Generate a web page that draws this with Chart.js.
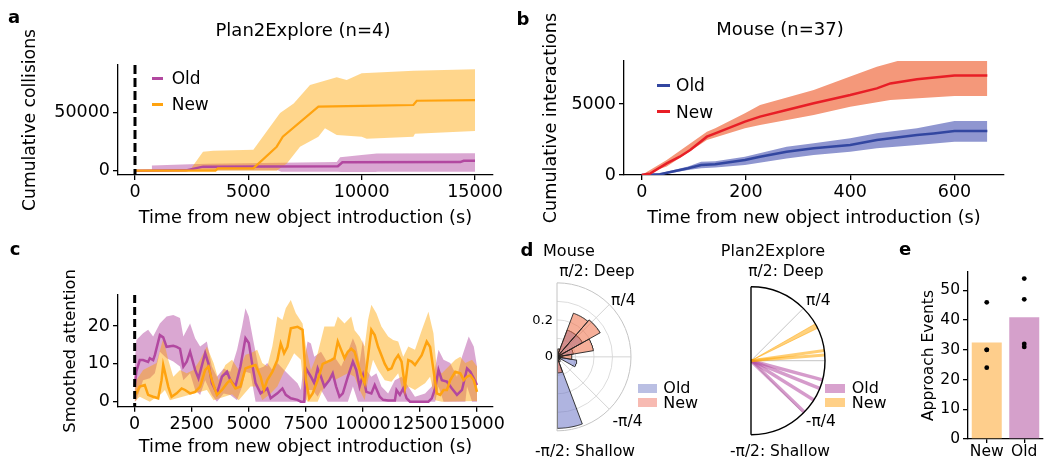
<!DOCTYPE html>
<html>
<head>
<meta charset="utf-8">
<title>Novel object exploration</title>
<script src="https://cdn.jsdelivr.net/npm/chart.js@4.4.1/dist/chart.umd.min.js"></script>
<style>
html,body{margin:0;padding:0;width:1044px;height:458px;overflow:hidden;background:#fff;}
body{position:relative;font-family:"DejaVu Sans",sans-serif;color:#000;}
canvas{position:absolute;}
.tx{position:absolute;white-space:nowrap;line-height:1;transform:translate(-50%,-50%);}
.tl{position:absolute;white-space:nowrap;line-height:1;transform:translate(0,-50%);}
.bd{font-weight:bold;}
.sw{position:absolute;}
</style>
</head>
<body>
<canvas id="ca" width="520" height="230" style="left:0px;top:0px"></canvas>
<canvas id="cb" width="544" height="230" style="left:500px;top:0px"></canvas>
<canvas id="cc" width="520" height="228" style="left:0px;top:230px"></canvas>
<canvas id="cdm" width="180" height="228" style="left:500px;top:230px"></canvas>
<canvas id="cdp" width="160" height="228" style="left:694px;top:230px"></canvas>
<canvas id="ce" width="220" height="240" style="left:840px;top:230px"></canvas>

<div class="tx bd" style="left:14px;top:17px;font-size:18px">a</div>
<div class="tx" style="left:303px;top:30px;font-size:18px">Plan2Explore (n=4)</div>
<div class="tx bd" style="left:523px;top:19px;font-size:18px">b</div>
<div class="tx" style="left:780px;top:29px;font-size:18px">Mouse (n=37)</div>
<div class="tx bd" style="left:15px;top:249px;font-size:18px">c</div>
<div class="tx bd" style="left:527px;top:249.5px;font-size:18px">d</div>
<div class="tx" style="left:569px;top:250.8px;font-size:16px">Mouse</div>
<div class="tx" style="left:773px;top:250.8px;font-size:16px">Plan2Explore</div>
<div class="tx bd" style="left:905px;top:248.8px;font-size:18px">e</div>

<div class="tx" style="left:597px;top:272.3px;font-size:15.5px">π/2: Deep</div>
<div class="tx" style="left:786px;top:272.3px;font-size:15.5px">π/2: Deep</div>
<div class="tx" style="left:623.3px;top:300.5px;font-size:15.5px">π/4</div>
<div class="tx" style="left:818.3px;top:300.5px;font-size:15.5px">π/4</div>
<div class="tx" style="left:627.5px;top:422px;font-size:15.5px">-π/4</div>
<div class="tx" style="left:820.8px;top:422px;font-size:15.5px">-π/4</div>
<div class="tx" style="left:585px;top:452px;font-size:15.5px">-π/2: Shallow</div>
<div class="tx" style="left:780px;top:452px;font-size:15.5px">-π/2: Shallow</div>

<!-- legend a -->
<div class="sw" style="left:151.7px;top:76.5px;width:11.6px;height:3px;background:rgb(178,72,160)"></div>
<div class="tl" style="left:171.7px;top:78.3px;font-size:17px">Old</div>
<div class="sw" style="left:151.7px;top:102.8px;width:11.6px;height:3px;background:rgb(255,163,15)"></div>
<div class="tl" style="left:171.7px;top:103.8px;font-size:17px">New</div>
<!-- legend b -->
<div class="sw" style="left:657px;top:83.5px;width:13px;height:3px;background:rgb(50,70,160)"></div>
<div class="tl" style="left:676px;top:85px;font-size:17px">Old</div>
<div class="sw" style="left:657px;top:110.2px;width:13px;height:3px;background:rgb(232,30,38)"></div>
<div class="tl" style="left:676px;top:111.7px;font-size:17px">New</div>
<!-- legend d mouse -->
<div class="sw" style="left:638.3px;top:384px;width:18.4px;height:8.7px;background:rgb(186,191,227)"></div>
<div class="tl" style="left:663.3px;top:387.5px;font-size:16px">Old</div>
<div class="sw" style="left:638.3px;top:398.3px;width:18.4px;height:8.7px;background:rgb(247,186,178)"></div>
<div class="tl" style="left:663.3px;top:402.5px;font-size:16px">New</div>
<!-- legend d p2e -->
<div class="sw" style="left:825px;top:384px;width:20px;height:9px;background:rgb(216,162,206)"></div>
<div class="tl" style="left:851.7px;top:387.5px;font-size:16px">Old</div>
<div class="sw" style="left:825px;top:398px;width:20px;height:9px;background:rgb(255,208,135)"></div>
<div class="tl" style="left:851.7px;top:402.5px;font-size:16px">New</div>

<script>
// ---------------- DATA ----------------
// Panel a : Plan2Explore cumulative collisions  [time (s), value]
const aTicksX = [0, 5000, 10000, 15000];
const aTicksY = [0, 50000];
const aOldMean = [[0,0],[2250,300],[3000,3500],[8950,3800],[9150,7200],[14350,7400],[14500,8500],[15000,8500]];
const aOldUpper = [[737,4500],[2430,5500],[3180,6000],[8900,7500],[9050,11500],[10000,13500],[10670,14800],[15000,15000]];
const aOldLower = [[737,300],[6300,300],[6450,-800],[8950,-800],[9100,-1200],[10600,-1200],[10700,-900],[15000,-900]];
const aNewMean = [[0,0],[3550,0],[3650,2000],[5220,2000],[6250,20700],[6520,29300],[8090,55200],[10000,55800],[12280,56600],[12430,60300],[15000,60900]];
const aNewUpper = [[0,0],[2400,0],[3000,16400],[3450,17200],[5220,18100],[6400,49700],[7000,58000],[7720,73900],[8900,80500],[9340,78200],[10000,84000],[12280,86200],[15000,87400]];
const aNewLower = [[0,0],[6250,0],[6700,6300],[7280,20700],[8090,29300],[8380,36500],[8900,30800],[10000,29300],[10220,27600],[12280,29300],[12350,31900],[15000,34200]];

// Panel b : Mouse cumulative interactions
const bTicksX = [0, 200, 400, 600];
const bTicksY = [0, 5000];
const bNewMean = [[0,0],[16,100],[48,820],[73,1290],[93,1760],[125,2700],[141,2935],[198,3755],[227,4110],[278,4580],[330,5050],[400,5630],[451,6100],[477,6450],[528,6740],[600,7000],[663,7000]];
const bNewUpper = [[0,0],[48,1050],[125,3050],[141,3290],[198,4340],[227,4930],[330,5990],[400,6930],[451,7630],[493,8050],[663,8050]];
const bNewLower = [[0,0],[48,600],[125,2460],[198,3290],[227,3520],[330,4230],[400,4810],[477,5280],[600,5560],[663,5560]];
const bOldMean = [[0,0],[35,50],[89,470],[114,700],[141,750],[198,1060],[227,1290],[278,1640],[330,1880],[400,2110],[451,2465],[528,2820],[560,2930],[600,3100],[663,3100]];
const bOldUpper = [[0,0],[35,120],[89,600],[114,940],[141,960],[198,1290],[278,1990],[330,2230],[400,2580],[451,2935],[528,3290],[600,3800],[663,3800]];
const bOldLower = [[0,0],[35,0],[89,350],[114,470],[141,520],[198,700],[278,1170],[330,1410],[400,1640],[451,1880],[528,2110],[600,2350],[663,2350]];

// Panel c : smoothed attention
const cTicksX = [0, 2500, 5000, 7500, 10000, 12500, 15000];
const cTicksY = [0, 10, 20];
const cOldMean = [[0,4],[74,8],[221,11],[368,11],[588,10.5],[662,11.5],[809,11],[883,12.3],[1103,17.6],[1250,17],[1397,14.5],[1692,14.8],[1839,14.5],[1986,14],[2133,9.3],[2280,10.6],[2427,13.2],[2648,8.4],[2795,6.2],[3089,12.8],[3236,10],[3383,4.9],[3604,2.2],[3825,6.6],[4045,7.9],[4192,5.7],[4413,4],[4634,9.3],[4854,16.8],[5001,15.5],[5148,10],[5296,4.9],[5516,2.2],[5810,3.5],[5958,0.9],[6252,2.2],[6473,3.5],[6620,1.8],[6840,0.9],[7134,0.5],[7281,0],[7428,0],[7502,8.8],[7722,6.6],[7869,4.9],[8017,8.8],[8164,6.6],[8311,4],[8531,5.7],[8678,7.5],[8826,4],[8973,1.3],[9120,2.2],[9340,6.6],[9561,10.6],[9708,8.4],[9855,4],[10002,7],[10149,2.6],[10370,2.2],[10517,4.4],[10738,1.3],[10885,0.5],[11105,0.3],[11400,0.3],[11473,3.1],[11620,1.8],[11767,3.5],[11915,0.9],[12062,0],[12871,0],[13018,0.9],[13165,3.5],[13312,8.4],[13459,5.7],[13680,5.3],[13900,3.5],[14121,1.8],[14342,3.1],[14562,8.8],[14709,7.9],[14857,6.2],[15000,4.4]];
const cOldUpper = [[0,10],[74,16.3],[368,18.1],[588,19],[809,17.2],[1103,20.7],[1397,22.5],[1692,22.9],[1986,22.1],[2133,17.2],[2427,20.7],[2648,16.8],[2868,14.6],[3162,15.9],[3383,9.3],[3604,6.6],[3898,8.8],[4192,7.9],[4486,13.7],[4707,19.9],[4854,24.7],[5001,22.5],[5222,15.4],[5443,8.8],[5663,9.3],[5810,10.2],[6031,8.4],[6252,10.2],[6546,8.4],[6840,6.6],[7134,4.9],[7281,3.1],[7428,11.1],[7575,15.9],[7722,15.4],[7869,11.9],[8164,13.2],[8458,10.2],[8752,11.9],[9046,9.3],[9340,13.2],[9561,16.8],[9708,14.6],[9855,10.2],[10002,16.3],[10149,8.4],[10370,6.6],[10591,7.5],[10811,4],[11105,2.2],[11400,5.7],[11694,6.6],[11988,4],[12282,1.3],[12724,2.2],[13018,4],[13312,13.7],[13533,11.1],[13827,10.2],[14121,6.6],[14342,11.9],[14636,17.2],[14857,14.6],[15000,9.3]];
const cOldLower = [[0,0],[74,0.4],[368,5.7],[662,6.2],[883,7.5],[1103,13.2],[1397,11.5],[1692,10.6],[1986,9.3],[2133,5.7],[2427,7.5],[2648,3.1],[2868,1.8],[3089,5.7],[3383,1.8],[3604,0],[3898,2.2],[4192,1.8],[4486,0.4],[4707,4],[4854,7.9],[5075,7.5],[5296,0],[7502,0],[7576,3.1],[7797,3.1],[8017,1.3],[8164,3.1],[8458,0],[9340,0],[9561,4],[9782,0],[13165,0],[13312,4],[13533,0],[14489,0],[14562,4],[14783,0],[15000,0]];
const cNewMean = [[0,2],[74,2.2],[221,4],[441,4.4],[588,1.8],[809,1.3],[1030,0.9],[1177,5.7],[1250,9.7],[1471,4],[1618,1.3],[1839,2.2],[2059,3.5],[2206,3.1],[2427,2.2],[2648,2.6],[2868,4],[3089,8.4],[3236,9.3],[3383,5.7],[3604,1.8],[3825,3.1],[4045,4.9],[4192,5.7],[4413,3.5],[4634,4],[4854,8.8],[5075,9.3],[5296,9.7],[5516,6.6],[5663,3.1],[5810,5.7],[6031,7.9],[6252,11],[6399,15.4],[6546,12.8],[6693,14.5],[6840,19.4],[7134,19.8],[7355,19],[7502,5.7],[7649,0.9],[7797,2.2],[8017,5.7],[8238,10],[8458,10.6],[8605,11],[8752,11.5],[8899,15.9],[9046,13.7],[9193,11.5],[9340,13.2],[9488,14],[9635,13.2],[9782,10],[9929,7],[10076,4.9],[10223,11.9],[10370,19],[10517,17.6],[10664,14.5],[10811,12.3],[10958,10],[11105,8.4],[11253,8.8],[11400,11],[11547,12.3],[11694,10.6],[11841,4],[11988,11],[12135,10.6],[12282,9.7],[12430,11],[12577,12.3],[12797,15.9],[12944,14.5],[13091,8.4],[13239,2.2],[13386,1.8],[13533,3.1],[13680,3.1],[13827,5.7],[14047,7.9],[14268,7.5],[14415,5.7],[14562,6.6],[14709,7],[14857,5.7],[15000,2.6]];
const cNewUpper = [[0,3],[74,5.7],[368,8.4],[662,9.3],[956,10.2],[1250,16.8],[1471,11.1],[1692,6.6],[1986,8.4],[2280,7.5],[2574,8.4],[2868,11.1],[3162,14.6],[3457,10.2],[3677,5.7],[3972,9.7],[4266,11.1],[4560,8.4],[4854,12.4],[5075,12.8],[5369,13.7],[5590,10.2],[5810,9.3],[6031,14.6],[6252,22.5],[6473,21.6],[6620,24.7],[6840,26.9],[7061,23.4],[7355,20.7],[7502,14.6],[7723,8.4],[8017,12.8],[8311,19.9],[8605,19.9],[8752,19.9],[8899,22.5],[9193,20.7],[9488,22.5],[9635,18.9],[9855,17.2],[10076,14.6],[10223,21.6],[10370,25.6],[10591,23.4],[10811,19.9],[11105,17.2],[11326,16.3],[11547,15.9],[11767,11.9],[11988,14.6],[12282,13.7],[12577,18.9],[12871,23.8],[13091,18.1],[13239,8.4],[13459,7.5],[13753,9.3],[14047,11.1],[14268,11.9],[14489,10.2],[14783,11.1],[15000,9.3]];
const cNewLower = [[0,0],[221,1.3],[662,0],[1177,2.2],[1324,3.1],[1544,0.4],[3162,3.1],[3457,0.4],[4266,2],[4560,0.4],[5075,4],[5369,4],[5590,0.4],[5958,2.2],[6252,4],[6546,7.9],[6767,10.2],[6987,12.8],[7281,11.1],[7428,1.3],[7576,0],[8017,0],[8238,3.1],[8605,6.6],[8752,5.7],[9046,6.6],[9340,7.5],[9635,6.6],[9855,3.1],[10076,0.4],[10223,5.7],[10444,11.1],[10664,8.4],[10958,5.7],[11253,5.3],[11547,7.5],[11767,2.2],[11988,4],[12282,3.1],[12503,4],[12724,4.9],[12944,6.6],[13165,0.4],[13459,0],[15000,0.2]];

// Panel d : approach angle histograms (degrees)
const dBinEdges = [-90, -70, -50, -30, -10, 10, 30, 50, 70, 90];
const dMouseNew = [0.09, 0.03, 0.02, 0.02, 0.08, 0.20, 0.27, 0.26, 0.045];
const dMouseOld = [0.40, 0.00, 0.02, 0.11, 0.03, 0.09, 0.16, 0.16, 0.02];
const dMouseTicks = [0, 0.2];
const dP2ENewAngles = [4.5, 8];
const dP2ENewWedges = [[26, 30]];
const dP2EOldAngles = [-15, -22, -32, -44];

// Panel e : approach events
const eCategories = ['New', 'Old'];
const eMeans = [32.5, 41];
const eNewPoints = [46, 30, 30, 24];
const eOldPoints = [54, 47, 32, 31];
const eTicksY = [0, 10, 20, 30, 40, 50];

// ---------------- STYLE ----------------
const OLD = 'rgb(178,72,160)', OLD_BAND = 'rgba(178,72,160,0.48)';
const NEW = 'rgb(255,163,15)', NEW_BAND = 'rgba(255,165,0,0.45)';
const RED = 'rgb(232,30,38)', RED_BAND = 'rgb(244,152,122)';
const BLUE = 'rgb(50,70,160)', BLUE_BAND = 'rgb(143,150,208)';
const TICK_FS = 17.5, XT_FS = 17.7;

Chart.defaults.font.family = "'DejaVu Sans', sans-serif";
Chart.defaults.color = '#000';

const xy = arr => arr.map(p => ({x: p[0], y: p[1]}));

function linAxis(o) {
  const ax = {
    type: 'linear', min: o.min, max: o.max, display: o.display !== false,
    afterBuildTicks: s => { s.ticks = o.ticks.map(v => ({value: v})); },
    ticks: {callback: v => String(v), font: {size: o.fs}, padding: o.pad, maxRotation: 0, autoSkip: false, color: '#000'},
    grid: {display: o.grid !== false, drawOnChartArea: false, drawTicks: true, tickLength: o.tl, color: '#000', lineWidth: 1.3},
    border: {display: o.border !== false, color: '#000', width: 1.3},
    title: {display: !!o.title, text: o.title || '', font: {size: o.tfs || o.fs}, color: '#000', padding: o.tpad || 0}
  };
  if (o.w !== undefined) ax.afterFit = s => { s.width = o.w; };
  if (o.h !== undefined) ax.afterFit = s => { s.height = o.h; };
  return ax;
}

function baseOptions(pad, scales, extra) {
  return Object.assign({
    responsive: false, animation: false, devicePixelRatio: 1, events: [],
    layout: {padding: pad},
    elements: {point: {radius: 0, hoverRadius: 0}, line: {tension: 0}},
    plugins: {legend: {display: false}, tooltip: {enabled: false}},
    scales: scales
  }, extra || {});
}

const band = (data, color, target, order) => ({data: xy(data), borderWidth: 0, backgroundColor: color, fill: target, order: order, pointRadius: 0});
const lower = (data, order) => ({data: xy(data), borderWidth: 0, fill: false, order: order, pointRadius: 0});
const line = (data, color, w, order) => ({data: xy(data), borderColor: color, borderWidth: w, fill: false, order: order, pointRadius: 0});

// ---------------- PANEL A ----------------
const aX = {min: -750, max: 15780}, aY = {min: -3700, max: 91100};
new Chart('ca', {
  type: 'line',
  data: {datasets: [
    band(aOldUpper, OLD_BAND, 1, 10), lower(aOldLower, 9),
    band(aNewUpper, NEW_BAND, 3, 8), lower(aNewLower, 7),
    line(aOldMean, OLD, 2.5, 4), line(aNewMean, NEW, 2.2, 3),
    {data: [{x: 0, y: aY.max}, {x: 0, y: aY.min}], borderColor: '#000', borderWidth: 3, borderDash: [9, 4], fill: false, order: 1, pointRadius: 0}
  ]},
  options: baseOptions({left: 0, top: 65, right: 27.3, bottom: 0}, {
    x: linAxis({min: aX.min, max: aX.max, ticks: aTicksX, fs: TICK_FS, tfs: XT_FS, pad: 2, tl: 5, title: 'Time from new object introduction (s)', tpad: {top: 0, bottom: 0.6}, h: 55}),
    y: linAxis({min: aY.min, max: aY.max, ticks: aTicksY, fs: TICK_FS, tfs: 17.2, pad: 3, tl: 5, title: 'Cumulative collisions', tpad: {top: 20.4, bottom: 0}, w: 118})
  })
});

// ---------------- PANEL B ----------------
new Chart('cb', {
  type: 'line',
  data: {datasets: [
    band(bOldUpper, BLUE_BAND, 1, 10), lower(bOldLower, 9),
    band(bNewUpper, RED_BAND, 3, 8), lower(bNewLower, 7),
    line(bOldMean, BLUE, 2.5, 4), line(bNewMean, RED, 2.5, 3)
  ]},
  options: baseOptions({left: 0, top: 61, right: 40, bottom: 0}, {
    x: linAxis({min: -34, max: 695, ticks: bTicksX, fs: TICK_FS, tfs: XT_FS, pad: 2, tl: 5, title: 'Time from new object introduction (s)', tpad: {top: 0, bottom: 0.6}, h: 55}),
    y: linAxis({min: 0, max: 8028, ticks: bTicksY, fs: TICK_FS, tfs: 17.6, pad: 3, tl: 5, title: 'Cumulative interactions', tpad: {top: 41.1, bottom: 0}, w: 124})
  })
});

// ---------------- PANEL C ----------------
const cY = {min: -1.32, max: 28.2};
new Chart('cc', {
  type: 'line',
  data: {datasets: [
    band(cOldUpper, OLD_BAND, 1, 10), lower(cOldLower, 9),
    band(cNewUpper, NEW_BAND, 3, 8), lower(cNewLower, 7),
    line(cOldMean, OLD, 2.5, 4), line(cNewMean, NEW, 2.5, 3),
    {data: [{x: 0, y: cY.max}, {x: 0, y: cY.min}], borderColor: '#000', borderWidth: 3, borderDash: [8, 4], fill: false, order: 1, pointRadius: 0}
  ]},
  options: baseOptions({left: 0, top: 65, right: 27, bottom: 0}, {
    x: linAxis({min: -731, max: 15700, ticks: cTicksX, fs: TICK_FS, tfs: XT_FS, pad: 2, tl: 5, title: 'Time from new object introduction (s)', tpad: {top: 0, bottom: 0.1}, h: 51.3}),
    y: linAxis({min: cY.min, max: cY.max, ticks: cTicksY, fs: TICK_FS, tfs: 16.4, pad: 3, tl: 5, title: 'Smoothed attention', tpad: {top: 60.5, bottom: 0}, w: 118})
  })
});

// ---------------- PANEL D ----------------
const OUTER = 0.4;
function wedges(edges, radii) {
  const pts = [];
  for (let i = 0; i < radii.length; i++) {
    const r = radii[i];
    if (!(r > 0)) continue;
    const a0 = edges[i] * Math.PI / 180, a1 = edges[i + 1] * Math.PI / 180;
    pts.push({x: 0, y: 0});
    for (let k = 0; k <= 24; k++) {
      const a = a0 + (a1 - a0) * k / 24;
      pts.push({x: r * Math.cos(a), y: r * Math.sin(a)});
    }
    pts.push({x: 0, y: 0});
  }
  return pts;
}
function polarGrid(cfg) {
  return {
    id: 'polarGrid',
    beforeDatasetsDraw(chart) {
      const {ctx} = chart, xs = chart.scales.x, ys = chart.scales.y;
      const cx = xs.getPixelForValue(0), cy = ys.getPixelForValue(0);
      const R = v => xs.getPixelForValue(v) - cx;
      ctx.save();
      ctx.lineWidth = 1;
      ctx.strokeStyle = cfg.grid;
      cfg.rings.forEach(r => { ctx.beginPath(); ctx.arc(cx, cy, R(r), -Math.PI / 2, Math.PI / 2); ctx.stroke(); });
      ctx.strokeStyle = cfg.spoke;
      cfg.spokes.forEach(d => {
        const a = d * Math.PI / 180;
        ctx.beginPath(); ctx.moveTo(cx, cy);
        ctx.lineTo(cx + R(OUTER) * Math.cos(a), cy - R(OUTER) * Math.sin(a)); ctx.stroke();
      });
      ctx.restore();
    },
    afterDatasetsDraw(chart) {
      const {ctx} = chart, xs = chart.scales.x, ys = chart.scales.y;
      const cx = xs.getPixelForValue(0), cy = ys.getPixelForValue(0);
      const r = xs.getPixelForValue(OUTER) - cx;
      ctx.save();
      ctx.strokeStyle = cfg.frame; ctx.lineWidth = cfg.frameW;
      ctx.beginPath(); ctx.arc(cx, cy, r, -Math.PI / 2, Math.PI / 2); ctx.stroke();
      ctx.beginPath(); ctx.moveTo(cx, cy - r); ctx.lineTo(cx, cy + r); ctx.stroke();
      ctx.restore();
    }
  };
}

new Chart('cdm', {
  type: 'line',
  data: {datasets: [
    {data: wedges(dBinEdges, dMouseNew), fill: 'shape', backgroundColor: 'rgba(238,110,70,0.55)', borderColor: '#222', borderWidth: 0.9, order: 2, pointRadius: 0},
    {data: wedges(dBinEdges, dMouseOld), fill: 'shape', backgroundColor: 'rgba(110,118,198,0.55)', borderColor: '#222', borderWidth: 0.9, order: 3, pointRadius: 0}
  ]},
  options: baseOptions({left: 0, top: 37.5, right: 30.5, bottom: 5.5}, {
    x: {type: 'linear', min: 0, max: 0.5, display: false},
    y: linAxis({min: -0.5, max: 0.5, ticks: dMouseTicks, fs: 13, pad: 4, tl: 0, grid: false, border: false, w: 57})
  }),
  plugins: [polarGrid({rings: [0.1, 0.2, 0.3], spokes: [45, 0, -45], grid: '#dcdcdc', spoke: '#d4d4d4', frame: '#c4c4c4', frameW: 1})]
});

const p2eDatasets = [];
dP2ENewWedges.forEach(w => p2eDatasets.push({data: wedges([w[0], w[1]], [OUTER]), fill: 'shape', backgroundColor: 'rgba(255,165,0,0.5)', borderColor: 'rgba(255,165,0,0.5)', borderWidth: 1, order: 3, pointRadius: 0}));
dP2ENewAngles.forEach(d => p2eDatasets.push({data: [{x: 0, y: 0}, {x: OUTER * Math.cos(d * Math.PI / 180), y: OUTER * Math.sin(d * Math.PI / 180)}], borderColor: 'rgba(255,165,0,0.55)', borderWidth: 3, fill: false, order: 3, pointRadius: 0}));
dP2EOldAngles.forEach(d => p2eDatasets.push({data: [{x: 0, y: 0}, {x: OUTER * Math.cos(d * Math.PI / 180), y: OUTER * Math.sin(d * Math.PI / 180)}], borderColor: 'rgba(178,72,160,0.55)', borderWidth: 3.5, fill: false, order: 3, pointRadius: 0}));

new Chart('cdp', {
  type: 'line',
  data: {datasets: p2eDatasets},
  options: baseOptions({left: 57, top: 38.2, right: 10.5, bottom: 4.8}, {
    x: {type: 'linear', min: 0, max: 0.5, display: false},
    y: {type: 'linear', min: -0.5, max: 0.5, display: false}
  }),
  plugins: [polarGrid({rings: [], spokes: [45, 0, -45], grid: '#cccccc', spoke: '#c4c4c4', frame: '#000', frameW: 1.4})]
});

// ---------------- PANEL E ----------------
new Chart('ce', {
  type: 'bar',
  data: {
    labels: eCategories,
    datasets: [
      {type: 'scatter', data: eNewPoints.map(v => ({x: 'New', y: v})).concat(eOldPoints.map(v => ({x: 'Old', y: v}))), backgroundColor: '#000', borderWidth: 0, pointRadius: 2.4, order: 0},
      {type: 'bar', data: eMeans, backgroundColor: ['rgb(254,206,140)', 'rgb(213,160,203)'], borderWidth: 0, barPercentage: 0.8, categoryPercentage: 1, order: 1}
    ]
  },
  options: baseOptions({left: 0, top: 42, right: 17, bottom: 0}, {
    x: {type: 'category', offset: true,
        ticks: {font: {size: 15.5}, padding: 0, color: '#000', maxRotation: 0},
        grid: {display: true, offset: false, drawOnChartArea: false, drawTicks: true, tickLength: 4, color: '#000', lineWidth: 1.3},
        border: {display: true, color: '#000', width: 1.3},
        afterFit: s => { s.height = 31; }},
    y: linAxis({min: 0, max: 56.2, ticks: eTicksY, fs: 15.5, pad: 3, tl: 5, title: 'Approach Events', tpad: {top: 79.7, bottom: 0}, w: 128})
  })
});
</script>
</body>
</html>
